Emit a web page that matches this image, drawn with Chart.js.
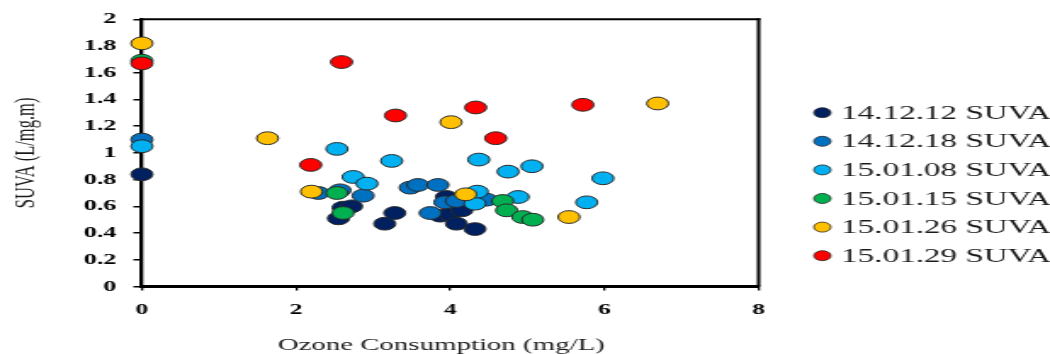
<!DOCTYPE html>
<html>
<head>
<meta charset="utf-8">
<script src="https://cdn.jsdelivr.net/npm/chart.js@4.4.1/dist/chart.umd.min.js"></script>
<style>
  html, body { margin: 0; padding: 0; background: #fff; }
  #wrap { width: 1050px; height: 354px; overflow: hidden; }
  #c { display: block; width: 1050px; height: 354px; }
</style>
</head>
<body>
<div id="wrap"><canvas id="c" width="618" height="354" style="width:1050px;height:354px"></canvas></div>
<script>
// ---- Data ----
const seriesNames = ['14.12.12 SUVA', '14.12.18 SUVA', '15.01.08 SUVA', '15.01.15 SUVA', '15.01.26 SUVA', '15.01.29 SUVA'];
const seriesColors = ['#002060', '#0070C0', '#00B0F0', '#00B050', '#FFC000', '#FF0000'];

const s141212X = [0, 2.55, 2.61, 2.72, 3.15, 3.28, 3.87, 3.95, 3.99, 4.08, 4.15, 4.32];
const s141212Y = [0.84, 0.51, 0.59, 0.60, 0.47, 0.55, 0.53, 0.67, 0.54, 0.47, 0.57, 0.43];

const s141218X = [0, 2.29, 2.57, 2.87, 3.48, 3.58, 3.74, 3.84, 3.93, 4.08, 4.47];
const s141218Y = [1.10, 0.70, 0.72, 0.68, 0.74, 0.76, 0.55, 0.76, 0.63, 0.64, 0.65];

const s150108X = [0, 2.53, 2.74, 2.92, 3.24, 4.32, 4.35, 4.37, 4.75, 4.88, 5.06, 5.77, 5.98];
const s150108Y = [1.05, 1.03, 0.82, 0.77, 0.94, 0.62, 0.71, 0.95, 0.86, 0.67, 0.90, 0.63, 0.81];

const s150115X = [0, 2.53, 2.61, 4.68, 4.73, 4.94, 5.07];
const s150115Y = [1.69, 0.70, 0.55, 0.64, 0.57, 0.52, 0.50];

const s150126X = [0, 1.63, 2.20, 4.01, 4.20, 5.54, 6.69];
const s150126Y = [1.82, 1.11, 0.71, 1.23, 0.69, 0.52, 1.37];

const s150129X = [0, 2.19, 2.59, 3.29, 4.33, 4.59, 5.72];
const s150129Y = [1.67, 0.91, 1.68, 1.28, 1.34, 1.11, 1.36];

const xTitle = 'Ozone Consumption (mg/L)';
const yTitle = 'SUVA (L/mg.m)';
const xMin = 0, xMax = 8, xStep = 2;
const yMin = 0, yMax = 2, yStep = 0.2;

// ---- Build datasets ----
const seriesX = [s141212X, s141218X, s150108X, s150115X, s150126X, s150129X];
const seriesY = [s141212Y, s141218Y, s150108Y, s150115Y, s150126Y, s150129Y];

const datasets = seriesNames.map((name, i) => ({
  label: name,
  data: seriesX[i].map((x, j) => ({ x: x, y: seriesY[i][j] })),
  backgroundColor: seriesColors[i],
  borderColor: '#2a2a2a',
  borderWidth: 1,
  pointRadius: 6.4,
  pointHoverRadius: 6.4,
  clip: false,
  order: seriesNames.length - i
}));

const SERIF = '"Liberation Serif", "Times New Roman", serif';
const fmt = (v) => String(Number(v.toFixed(1)));

const overlay = {
  id: 'overlay',
  beforeDatasetsDraw(chart) {
    const { ctx, chartArea: a } = chart;
    ctx.save();
    ctx.strokeStyle = '#000';
    ctx.lineWidth = 2;
    ctx.beginPath();
    ctx.moveTo(a.left, a.top);
    ctx.lineTo(a.right + 1, a.top);
    ctx.stroke();
    ctx.beginPath();
    ctx.moveTo(a.right, a.top - 1);
    ctx.lineTo(a.right, a.bottom);
    ctx.stroke();
    ctx.restore();
  },
  afterDraw(chart) {
    const { ctx } = chart;
    ctx.save();
    // x axis title
    ctx.fillStyle = '#1a1a1a';
    ctx.font = '17px ' + SERIF;
    ctx.textAlign = 'center';
    ctx.textBaseline = 'middle';
    ctx.fillText(xTitle, 259.7, 346);
    // legend
    const lx = 484, ly = 112.7, step = 28.6;
    chart.data.datasets.forEach((ds, i) => {
      const y = ly + i * step;
      ctx.beginPath();
      ctx.arc(lx, y, 5, 0, Math.PI * 2);
      ctx.fillStyle = ds.backgroundColor;
      ctx.fill();
      ctx.lineWidth = 0.8;
      ctx.strokeStyle = '#2a2a2a';
      ctx.stroke();
      ctx.fillStyle = '#1a1a1a';
      ctx.font = '19.5px ' + SERIF;
      ctx.textAlign = 'left';
      ctx.textBaseline = 'middle';
      ctx.fillText(ds.label, 495, y + 1);
    });
    ctx.restore();
  }
};

new Chart(document.getElementById('c'), {
  type: 'scatter',
  data: { datasets: datasets },
  options: {
    responsive: false,
    devicePixelRatio: 1,
    animation: false,
    events: [],
    layout: { padding: { top: 16.5, right: 171.5, bottom: 0, left: 0 } },
    plugins: {
      legend: { display: false },
      tooltip: { enabled: false },
      title: { display: false }
    },
    scales: {
      x: {
        type: 'linear',
        min: xMin, max: xMax,
        afterFit: (s) => { s.height = 67.5; },
        ticks: {
          stepSize: xStep,
          color: '#000',
          padding: 11,
          maxRotation: 0,
          callback: fmt,
          font: { family: SERIF, size: 15, weight: 'bold' }
        },
        grid: {
          drawOnChartArea: false,
          drawTicks: true,
          tickLength: 4,
          color: '#000',
          lineWidth: 1.3
        },
        border: { display: true, color: '#000', width: 3 },
        title: { display: false }
      },
      y: {
        type: 'linear',
        min: yMin, max: yMax,
        afterFit: (s) => { s.width = 83.5; },
        ticks: {
          stepSize: yStep,
          color: '#000',
          padding: 10,
          callback: fmt,
          font: { family: SERIF, size: 15.5, weight: 'bold' }
        },
        grid: {
          drawOnChartArea: false,
          drawTicks: true,
          tickLength: 5,
          color: '#000',
          lineWidth: 1.5
        },
        border: { display: true, color: '#000', width: 2.3 },
        title: {
          display: true,
          text: yTitle,
          color: '#1a1a1a',
          padding: { top: 5.5, bottom: 0 },
          font: { family: SERIF, size: 16.5, weight: 'normal' }
        }
      }
    }
  },
  plugins: [overlay]
});
</script>
</body>
</html>
